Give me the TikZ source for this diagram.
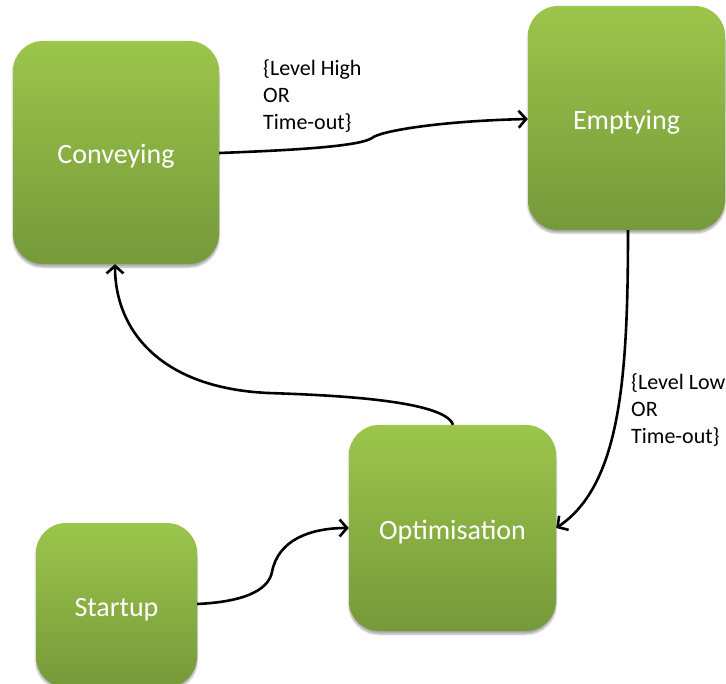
\documentclass[tikz,border=0pt]{standalone}
\usepackage{fontspec}
\setmainfont{Carlito}
\usetikzlibrary{arrows.meta,shadows.blur}

\definecolor{boxtop}{RGB}{156,197,75}
\definecolor{boxbot}{RGB}{118,153,58}

\tikzset{
  state/.style={
    rounded corners=30pt, top color=boxtop, bottom color=boxbot, draw=none,
    text=white, font=\fontsize{28}{34}\selectfont, inner sep=0pt,
    text height=22.5pt, text depth=0pt,
    blur shadow={shadow xshift=0pt, shadow yshift=-3pt, shadow blur steps=6, shadow opacity=35}
  },
  cond/.style={font=\fontsize{22}{27}\selectfont, align=left, inner sep=0pt, anchor=west},
  flow/.style={line width=2.6pt, -{Straight Barb[length=7.5pt,width=17pt,line width=2.6pt]}}
}

\begin{document}
\begin{tikzpicture}[x=1pt,y=-1pt]
  \useasboundingbox (0,0) rectangle (726,684);

  % states
  \node[state, minimum width=206pt, minimum height=223pt] (conv) at (116,152.5) {Conveying};
  \node[state, minimum width=197pt, minimum height=224pt] (empt) at (626.5,118) {Emptying};
  \node[state, minimum width=207pt, minimum height=206pt] (opt)  at (452.5,528) {Optimisation};
  \node[state, minimum width=161pt, minimum height=164pt] (start) at (116.5,605) {Startup};

  % transition guards
  \node[cond] (lhigh) at (263,96) {\{Level High\\OR\\Time-out\}};
  \node[cond] (llow)  at (631,410) {\{Level Low\\OR\\Time-out\}};

  % conveying -> emptying
  \draw[flow] (conv.east |- 0,153) .. controls (300,150) and (360,146) .. (372,138)
     .. controls (380,131) and (440,121) .. (empt.west |- 0,119);

  % emptying -> optimisation
  \draw[flow] (empt.south -| 628,0) .. controls (628,380) and (620,485) .. (opt.east |- 0,528);

  % optimisation -> conveying
  \draw[flow] (opt.north -| 453,0) .. controls (445,400) and (330,395) .. (268,393)
     .. controls (160,388) and (115,330) .. (conv.south -| 115,0);

  % startup -> optimisation
  \draw[flow] (start.east |- 0,604) .. controls (240,602) and (268,592) .. (272,572)
     .. controls (278,540) and (310,528) .. (opt.west |- 0,528);
\end{tikzpicture}
\end{document}
